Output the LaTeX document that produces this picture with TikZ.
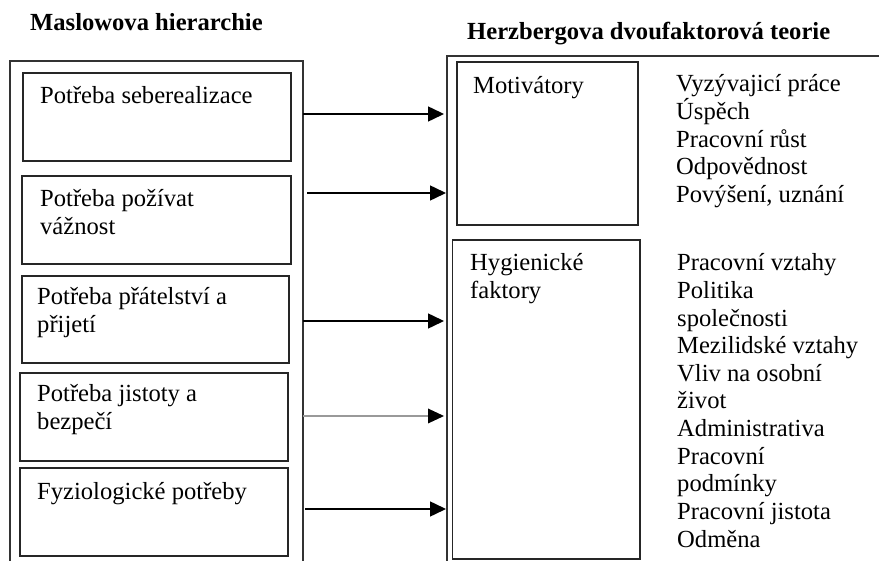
\documentclass[tikz,border=0pt]{standalone}
\usepackage{fontspec}
\setmainfont{Liberation Serif}
\usetikzlibrary{arrows.meta}
\begin{document}
\begin{tikzpicture}[x=1pt,y=-1pt,
  boxline/.style={draw=black!80,line width=1.6pt},
  inbox/.style={draw=black!85,line width=1.5pt,inner sep=0pt,outer sep=0pt},
  txt/.style={anchor=base west,inner sep=0pt,font=\fontsize{24.6}{27.6}\selectfont},
  head/.style={anchor=base west,inner sep=0pt,font=\fontsize{24.6}{27.6}\selectfont\bfseries},
  arr/.style={line width=1.5pt,-{Triangle[length=16pt,width=15pt]}}]
\useasboundingbox (0,0) rectangle (879,561);
\fill[white] (0,0) rectangle (879,561);
% headings
\node[head] (hl) at (30,31) {Maslowova hierarchie};
\node[head] (hr) at (467,40) {Herzbergova dvoufaktorová teorie};
% outer frames (open at the picture's edges)
\draw[boxline] (10,561) -- (10,61) -- (303,61) -- (303,561);
\draw[boxline] (447,561) -- (447,56) -- (879,56);
% left inner boxes
\draw[inbox] (23,73) rectangle (291,161);
\draw[inbox] (22,176) rectangle (291,264);
\draw[inbox] (22,276) rectangle (289,363);
\draw[inbox] (20,373) rectangle (288,461);
\draw[inbox] (20,468) rectangle (288,556);
\node[txt] (m1) at (40,104) {Potřeba seberealizace};
\node[txt] (m2a) at (40,207) {Potřeba požívat};
\node[txt] (m2b) at (40,235) {vážnost};
\node[txt] (m3a) at (37,305) {Potřeba přátelství a};
\node[txt] (m3b) at (37,333) {přijetí};
\node[txt] (m4a) at (37,402) {Potřeba jistoty a};
\node[txt] (m4b) at (37,430) {bezpečí};
\node[txt] (m5) at (37,499) {Fyziologické potřeby};
% right inner boxes
\draw[inbox] (457,62) rectangle (638,225);
\draw[inbox] (452.5,240) rectangle (640,559);
\node[txt] (mot) at (473,94) {Motivátory};
\node[txt] (hyga) at (470,271) {Hygienické};
\node[txt] (hygb) at (470,298.6) {faktory};
% motivator list
\node[txt] (ml1) at (676,92) {Vyzývajicí práce};
\node[txt] (ml2) at (676,119.6) {Úspěch};
\node[txt] (ml3) at (676,147.2) {Pracovní růst};
\node[txt] (ml4) at (676,174.8) {Odpovědnost};
\node[txt] (ml5) at (676,202.4) {Povýšení, uznání};
% hygiene list
\node[txt] (hl1) at (677,271) {Pracovní vztahy};
\node[txt] (hl2) at (677,298.6) {Politika};
\node[txt] (hl3) at (677,326.2) {společnosti};
\node[txt] (hl4) at (677,353.8) {Mezilidské vztahy};
\node[txt] (hl5) at (677,381.4) {Vliv na osobní};
\node[txt] (hl6) at (677,409) {život};
\node[txt] (hl7) at (677,436.6) {Administrativa};
\node[txt] (hl8) at (677,464.2) {Pracovní};
\node[txt] (hl9) at (677,491.8) {podmínky};
\node[txt] (hl10) at (677,519.4) {Pracovní jistota};
\node[txt] (hl11) at (677,547) {Odměna};
% connector end points
\coordinate (s1) at (303,114); \coordinate (e1) at (444,114);
\coordinate (s2) at (307,193); \coordinate (e2) at (446,193);
\coordinate (s3) at (303,321); \coordinate (e3) at (444,321);
\coordinate (s4) at (303,416); \coordinate (k4) at (428,416); \coordinate (e4) at (444,416);
\coordinate (s5) at (305,509); \coordinate (e5) at (446,509);
\draw[arr] (s1) -- (e1);
\draw[arr] (s2) -- (e2);
\draw[arr] (s3) -- (e3);
\draw[line width=1.5pt,draw=black!40] (s4) -- (k4);
\fill[black] ([yshift=-7.5pt]k4) -- (e4) -- ([yshift=7.5pt]k4) -- cycle;
\draw[arr] (s5) -- (e5);
\end{tikzpicture}
\end{document}
